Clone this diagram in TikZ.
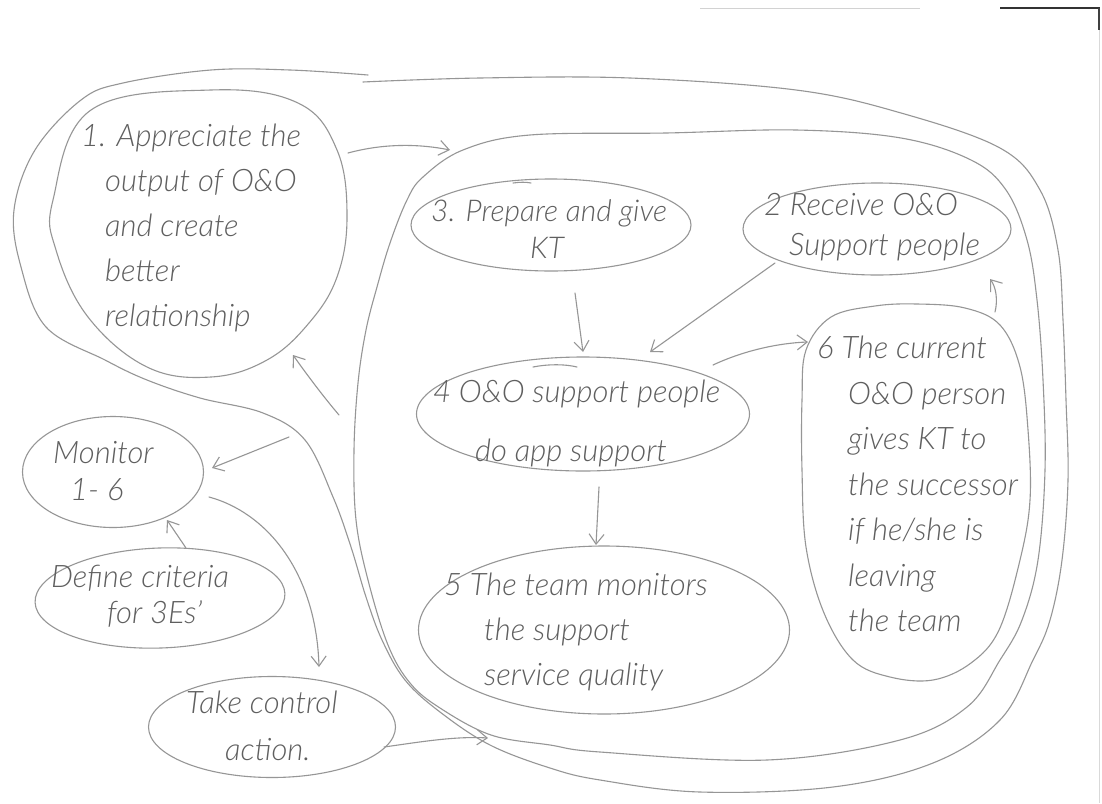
\documentclass[tikz,border=0pt]{standalone}
\usepackage{fontspec}
\setmainfont{Lato}[ItalicFont={Lato Light Italic}]
\usetikzlibrary{arrows.meta,shapes.geometric}
\definecolor{pencil}{RGB}{150,150,150}
\definecolor{graphite}{RGB}{95,95,95}
\begin{document}
\begin{tikzpicture}[x=1pt,y=-1pt,
  stroke/.style={draw=pencil, line width=1.1pt, line cap=round, line join=round},
  arr/.style={stroke, -{Straight Barb[length=10pt,width=15pt]}},
  bubble/.style 2 args={stroke, shape=ellipse, inner sep=0pt,
    minimum width=#1pt, minimum height=#2pt},
  hand/.style={text=graphite, align=left, anchor=west, inner sep=0pt,
    font=\fontsize{31}{#1}\selectfont\itshape}
]
\fill[white] (0,0) rectangle (1102,803);
\useasboundingbox (0,0) rectangle (1102,803);

% scanner edges
\draw[gray!35, line width=0.8pt] (700,8) -- (920,8);
\draw[black!80, line width=1.6pt] (1000,8) -- (1100,8);
\draw[black!75, line width=2pt] (1099,8) -- (1099,30);
\draw[gray!30, line width=0.8pt] (1099,30) -- (1099,803);

% outer loop (drawn in one stroke, ends overlapping at the top)
\draw[stroke] plot[smooth, tension=0.6] coordinates {
  (363,82) (480,78) (630,78) (796,90) (901,113) (1000,148) (1040,190)
  (1058,250) (1063,320) (1066,400) (1068,480) (1062,560) (1050,620)
  (1033,660) (1000,720) (933,763) (833,787) (700,792) (600,780)
  (550,768) (490,745) (440,712) (405,680)
  (382,640) (366,597) (351,547) (333,497) (305,440) (263,413) (200,398)
  (147,380) (105,360) (46,327) (21,267) (14,210) (35,150) (81,100)
  (123,83) (211,70) (290,70) (368,75)};

% inner loop
\draw[stroke] plot[smooth cycle, tension=0.6] coordinates {
  (530,135) (666,133) (796,130) (901,138) (971,160) (1006,190)
  (1027,240) (1037,300) (1043,380) (1045,470) (1038,560) (1022,620)
  (1000,660) (967,707) (900,740) (767,760) (600,752) (550,745) (491,735)
  (440,708) (410,683) (388,645) (368,580) (356,520) (354,450)
  (358,383) (366,330) (377,287) (390,243) (407,200) (423,177) (463,150)};

% step 1 blob
\draw[stroke] plot[smooth cycle, tension=0.65] coordinates {
  (53,200) (91,110) (211,90) (298,103) (337,150) (347,217) (337,277)
  (309,323) (267,360) (211,377) (147,367) (88,317) (56,250)};
\node[hand=45] (t1) at (81,228) {1. Appreciate the\\
  \hspace*{24pt}output of O\&O\\
  \hspace*{24pt}and create\\
  \hspace*{24pt}better\\
  \hspace*{24pt}relationship};

% step 6 blob
\draw[stroke] plot[smooth cycle, tension=0.6] coordinates {
  (917,304) (965,308) (1000,325) (1020,367) (1028,430) (1030,500)
  (1020,560) (999,630) (971,663) (933,680) (890,677) (853,660)
  (824,613) (806,547) (802,470) (802,400) (806,350) (831,317) (875,306)};
\node[hand=45.5] (t6) at (817,484) {6 The current\\
  \hspace*{31pt}O\&O person\\
  \hspace*{31pt}gives KT to\\
  \hspace*{31pt}the successor\\
  \hspace*{31pt}if he/she is\\
  \hspace*{31pt}leaving\\
  \hspace*{31pt}the team};

% elliptical steps
\node[bubble={280}{92}] (n3) at (551,225) {};
\draw[stroke] (513,183) .. controls (520,182) and (526,182) .. (531,183);
\node[hand=37, font=\fontsize{30}{37}\selectfont\itshape] (t3) at (431,229)
  {3. Prepare and give\\\hspace*{99pt}KT};

\node[bubble={268}{92}] (n2) at (877,229) {};
\node[hand=40] (t2) at (764,227) {2 Receive O\&O\\\hspace*{25pt}Support people};

\node[bubble={333}{114}] (n4) at (583,414) {};
\draw[stroke] (533,367) .. controls (548,364) and (565,364) .. (577,367);
\node[hand=59] (t4) at (433,423) {4 O\&O support people\\\hspace*{42pt}do app support};

\node[bubble={371}{168}] (n5) at (604,630) {};
\node[hand=45] (t5) at (444,632) {5 The team monitors\\
  \hspace*{40pt}the support\\
  \hspace*{40pt}service quality};

\node[bubble={181}{111}] (nm) at (113,472) {};
\node[hand=37] (tm) at (53,471) {Monitor\\\hspace*{17pt}1- 6};

\node[bubble={250}{100}, rotate=2] (nd) at (160,598) {};
\node[hand=36] (td) at (51,596) {Define criteria\\\hspace*{56pt}for 3Es'};

\node[bubble={247}{101}] (nt) at (272,727) {};
\node[hand=47] (tt) at (186,726) {Take control\\\hspace*{39pt}action.};

% connector end points
\coordinate (c1a) at (348,153);  \coordinate (c1b) at (450,150);
\coordinate (c3a) at (575,293);  \coordinate (c3b) at (583,352);
\coordinate (c2a) at (775,263);  \coordinate (c2b) at (650,352);
\coordinate (c4a) at (713,365);  \coordinate (c4b) at (808,342);
\coordinate (c6a) at (995,312);  \coordinate (c6b) at (990,279);
\coordinate (c5a) at (599,487);  \coordinate (c5b) at (596,545);
\coordinate (cra) at (339,415);  \coordinate (crb) at (293,355);
\coordinate (cma) at (289,437);  \coordinate (cmb) at (212,468);
\coordinate (cda) at (186,548);  \coordinate (cdb) at (167,520);
\coordinate (cta) at (209,497);  \coordinate (ctb) at (319,667);
\coordinate (cla) at (384,747);  \coordinate (clb) at (488,738);

% connectors
\draw[arr] (c1a) .. controls (385,143) and (420,144) .. (c1b);
\draw[arr] (c3a) -- (c3b);
\draw[arr] (c2a) -- (c2b);
\draw[arr] (c4a) .. controls (745,350) and (780,343) .. (c4b);
\draw[arr] (c6a) .. controls (998,300) and (996,287) .. (c6b);
\draw[arr] (c5a) -- (c5b);
\draw[arr] (cra) .. controls (322,395) and (305,372) .. (crb);
\draw[arr] (cma) -- (cmb);
\draw[arr] (cda) -- (cdb);
\draw[arr] (cta) .. controls (265,512) and (316,570) .. (ctb);
\draw[arr] (cla) .. controls (420,742) and (455,736) .. (clb);
\end{tikzpicture}
\end{document}
